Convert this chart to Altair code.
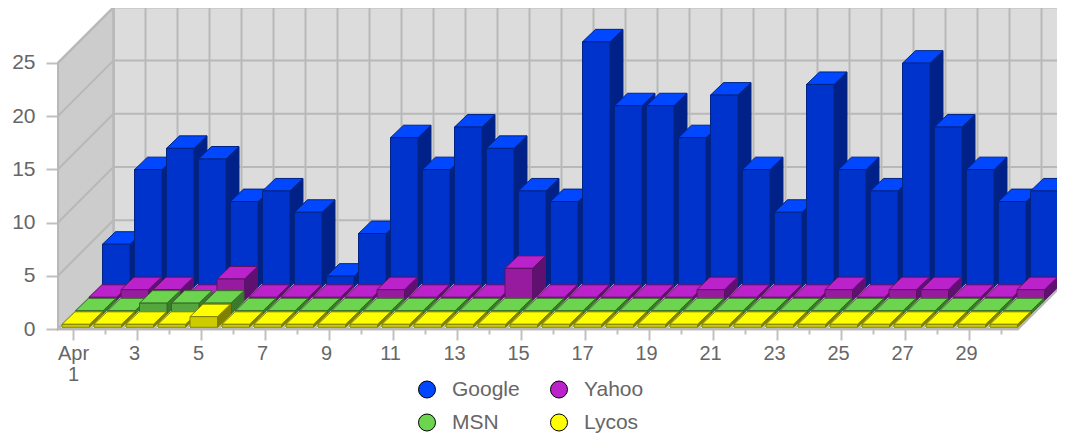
import altair as alt
import pandas as pd

days = list(range(1, 31))
google = [4, 11, 13, 12, 8, 9, 7, 1, 5, 14, 11, 15, 13, 9, 8, 23, 17, 17, 14, 18, 11, 7, 19, 11, 9, 21, 15, 11, 8, 9]
yahoo = [0, 1, 1, 0, 2, 0, 0, 0, 0, 1, 0, 0, 0, 3, 0, 0, 0, 0, 0, 1, 0, 0, 0, 1, 0, 1, 1, 0, 0, 1]
msn = [0, 0, 1, 1, 1, 0, 0, 0, 0, 0, 0, 0, 0, 0, 0, 0, 0, 0, 0, 0, 0, 0, 0, 0, 0, 0, 0, 0, 0, 0]
lycos = [0, 0, 0, 0, 1, 0, 0, 0, 0, 0, 0, 0, 0, 0, 0, 0, 0, 0, 0, 0, 0, 0, 0, 0, 0, 0, 0, 0, 0, 0]
series_names = ["Google", "Yahoo", "MSN", "Lycos"]
series_values = [google, yahoo, msn, lycos]
legend_order = ["Google", "MSN", "Yahoo", "Lycos"]
top_colors = ["#0047ff", "#bb22cc", "#6cd44f", "#ffff00"]
front_colors = ["#0033cc", "#961b9f", "#56a63f", "#cccc00"]
side_colors = ["#002288", "#5f1070", "#3a7a2c", "#808000"]
edge_colors = ["#002480", "#5e1166", "#366a28", "#808000"]
y_ticks = [0, 5, 10, 15, 20, 25]

PX_DAY = 32.0
PX_UNIT = 10.65
D0 = 0.53
DAYS = 30
VTOP = 321 / PX_UNIT
WALL_DX = 55.5 / PX_DAY
WALL_DY = 55.5 / PX_UNIT
BAR_W = 27.5 / PX_DAY
BAR_DX = 13.0 / PX_DAY
BAR_DY = 12.5 / PX_UNIT
MIN_H = 3.0 / PX_UNIT

xs = alt.Scale(domain=[D0, D0 + DAYS], nice=False, zero=False)
ys = alt.Scale(domain=[0, VTOP], nice=False, zero=False)
GRID = "#b8b8b8"
FONT = "Liberation Sans"
TXT = "#666666"

x_axis = alt.Axis(
    values=days, title=None, grid=False, domainColor="#c0c0c0", domainWidth=2,
    tickColor="#c0c0c0", tickWidth=2,
    tickSize=alt.condition("datum.value % 2 == 1", alt.value(11), alt.value(5)),
    labelExpr="datum.value == 1 ? ['Apr', '1'] : (datum.value % 2 == 1 ? datum.value : '')",
    labelOffset=alt.condition("datum.value == 1", alt.value(0), alt.value(-3)),
    labelFont=FONT, labelFontSize=20, labelColor=TXT, labelPadding=3,
    labelOverlap=False, labelBound=False, labelFlush=False, labelLineHeight=21,
)
y_axis = alt.Axis(
    values=y_ticks, title=None, grid=False, domain=False, tickColor="#c0c0c0",
    tickWidth=2, tickSize=12, labelFont=FONT, labelFontSize=21, labelColor=TXT,
    labelPadding=11, labelOverlap=False, labelBound=False, labelFlush=False,
)


def X(field="x"):
    return alt.X(f"{field}:Q", scale=xs, axis=x_axis, title=None)


def Y(field="y"):
    return alt.Y(f"{field}:Q", scale=ys, axis=y_axis, title=None)


# walls and floor
x_l, x_r = D0, D0 + DAYS
back = pd.DataFrame({"x": [x_l + WALL_DX], "x2": [x_r + WALL_DX], "y": [WALL_DY], "y2": [25 + WALL_DY]})
back_l = alt.Chart(back).mark_rect(fill="#dcdcdc", stroke=GRID, strokeWidth=2).encode(
    x=X(), x2="x2:Q", y=Y(), y2="y2:Q")
left = pd.DataFrame({"x": [x_l, x_l + WALL_DX], "y": [0, WALL_DY], "y2": [25, 25 + WALL_DY]})
left_l = alt.Chart(left).mark_area(fill="#cccccc", stroke=GRID, strokeWidth=2, opacity=1).encode(
    x=X(), y=Y(), y2="y2:Q")
floor = pd.DataFrame({"x": [x_l, x_l + WALL_DX], "x2": [x_r, x_r + WALL_DX], "y": [0, WALL_DY]})
floor_l = alt.Chart(floor).mark_area(fill="#ffffff", stroke=GRID, strokeWidth=2, orient="horizontal").encode(
    x=X(), x2="x2:Q", y=Y())

# grid lines on walls and floor
grid_rows = []
for t in y_ticks[1:]:
    grid_rows.append({"x": x_l, "y": t, "x2": x_l + WALL_DX, "y2": t + WALL_DY})
    grid_rows.append({"x": x_l + WALL_DX, "y": t + WALL_DY, "x2": x_r + WALL_DX, "y2": t + WALL_DY})
for k in range(DAYS + 1):
    grid_rows.append({"x": x_l + k, "y": 0, "x2": x_l + k + WALL_DX, "y2": WALL_DY})
    grid_rows.append({"x": x_l + k + WALL_DX, "y": WALL_DY, "x2": x_l + k + WALL_DX, "y2": 25 + WALL_DY})
grid_rows.append({"x": x_l, "y": 0, "x2": x_l, "y2": 25})
grid_l = alt.Chart(pd.DataFrame(grid_rows)).mark_rule(color=GRID, strokeWidth=2).encode(
    x=X(), x2="x2:Q", y=Y(), y2="y2:Q")

color = alt.Color(
    "series:N",
    scale=alt.Scale(domain=series_names, range=top_colors),
    legend=alt.Legend(
        title=None, orient="none", legendX=358.5, legendY=371, columns=2, padding=0,
        symbolType="circle", symbolSize=289, symbolStrokeColor="#000000", symbolStrokeWidth=1,
        symbolOpacity=1, labelFont=FONT, labelFontSize=21, labelColor=TXT, labelOffset=14.5,
        columnPadding=28, rowPadding=11, values=legend_order,
    ),
)

layers = [back_l, left_l, floor_l, grid_l]
n_rows = len(series_names)
for idx, (name, vals) in enumerate(zip(series_names, series_values)):
    row = n_rows - 1 - idx
    fronts, sides, tops = [], [], []
    base = (1.7 + 13.5 * row) / PX_UNIT
    for d, v in zip(days, vals):
        h = max(v, MIN_H)
        L = d - 1 + D0 + (4 + 13.5 * row) / PX_DAY
        R = L + BAR_W
        fronts.append({"x": L, "x2": R, "y": base, "y2": base + h})
        sides.append({"bar": d, "x": R, "y": base, "y2": base + h})
        sides.append({"bar": d, "x": R + BAR_DX, "y": base + BAR_DY, "y2": base + h + BAR_DY})
        tops.append({"bar": d, "series": name, "x": L, "x2": R, "y": base + h})
        tops.append({"bar": d, "series": name, "x": L + BAR_DX, "x2": R + BAR_DX, "y": base + h + BAR_DY})
    layers.append(alt.Chart(pd.DataFrame(sides)).mark_area(
        fill=side_colors[idx], stroke=edge_colors[idx], strokeWidth=1, opacity=1).encode(
        x=X(), y=Y(), y2="y2:Q", detail="bar:N"))
    layers.append(alt.Chart(pd.DataFrame(tops)).mark_area(
        stroke=edge_colors[idx], strokeWidth=1, opacity=1, orient="horizontal").encode(
        x=X(), x2="x2:Q", y=Y(), detail="bar:N", color=color))
    layers.append(alt.Chart(pd.DataFrame(fronts)).mark_rect(
        fill=front_colors[idx], stroke=edge_colors[idx], strokeWidth=1).encode(
        x=X(), x2="x2:Q", y=Y(), y2="y2:Q"))

chart = alt.layer(*layers).properties(
    width=960,
    height=321,
    autosize=alt.AutoSizeParams(type="none"),
    padding={"left": 50, "top": 0, "right": 39, "bottom": 104},
    background="#ffffff",
).configure_view(stroke=None)

chart.save("out.html", embed_options={"renderer": "svg", "actions": False})
